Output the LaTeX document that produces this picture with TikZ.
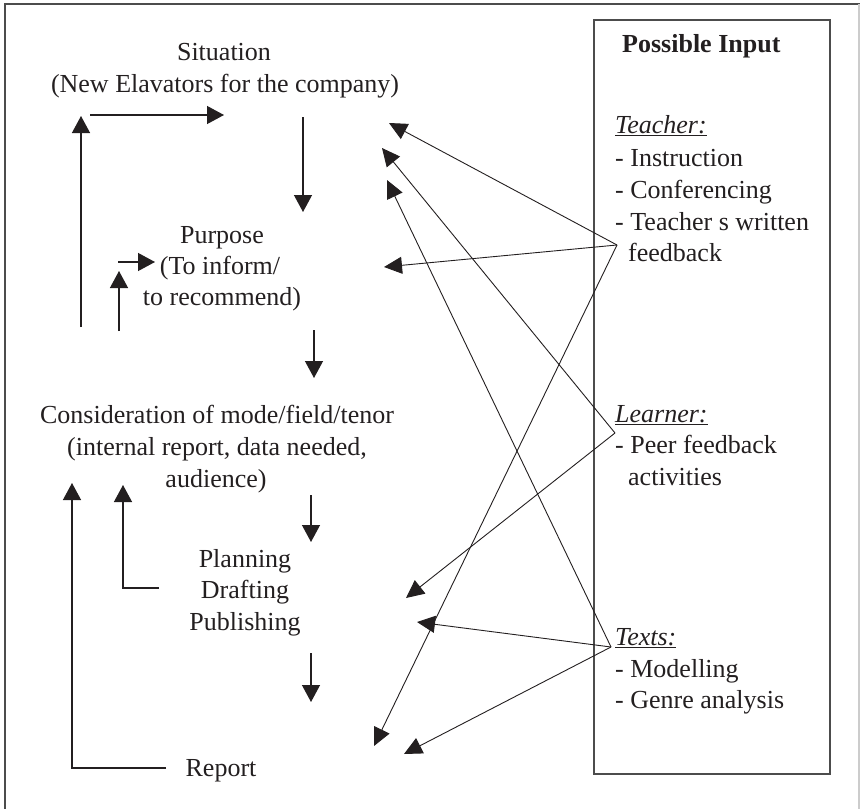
\documentclass[tikz,border=0pt]{standalone}
\usepackage{fontspec}
\setmainfont{Liberation Serif}
\usetikzlibrary{arrows.meta}
\definecolor{ink}{HTML}{231F20}
\begin{document}
\begin{tikzpicture}[x=1pt,y=-1pt,
  every node/.style={inner sep=0pt, text=ink, font=\fontsize{26}{32}\selectfont},
  stage/.style={anchor=base},
  inputline/.style={anchor=base west},
  flow/.style={draw=ink, line width=1.3pt, -{Triangle[length=17pt,width=18pt]}},
  feed/.style={draw=ink, line width=0.9pt, -{Triangle[length=18pt,width=17pt]}}
]
\useasboundingbox (0,0) rectangle (860,809);

% outer frame
\draw[draw=black!70, line width=1.5pt] (5,809) -- (5,4) -- (860,4);
\draw[draw=black!20, line width=1.2pt] (859,4) -- (859,809);

% writing stages
\node[stage] (sit1) at (224,60)  {Situation};
\node[stage] (sit2) at (225,92)  {(New Elavators for the company)};
\node[stage] (pur1) at (222,243) {Purpose};
\node[stage] (pur2) at (220,274) {(To inform/};
\node[stage] (pur3) at (222,305) {to recommend)};
\node[stage] (con1) at (217,423) {Consideration of mode/field/tenor};
\node[stage] (con2) at (217,455) {(internal report, data needed,};
\node[stage] (con3) at (216,487) {audience)};
\node[stage] (pdp1) at (245,567) {Planning};
\node[stage] (pdp2) at (245,598) {Drafting};
\node[stage] (pdp3) at (245,630) {Publishing};
\node[stage] (rep)  at (221,776) {Report};

% input panel
\node[draw=black!70, line width=1.5pt, minimum width=236pt, minimum height=754pt]
  (inputbox) at (712,397) {};
\node[inputline, font=\bfseries\fontsize{26}{32}\selectfont] (title) at (622,52) {Possible Input};
\node[inputline] (teach) at (615,133) {\underline{\textit{Teacher:}}};
\node[inputline] (t1) at (615,166) {- Instruction};
\node[inputline] (t2) at (615,198) {- Conferencing};
\node[inputline] (t3) at (615,230) {- Teacher s written};
\node[inputline] (t4) at (628,261) {feedback};
\node[inputline] (learn) at (615,422) {\underline{\textit{Learner:}}};
\node[inputline] (l1) at (615,453) {- Peer feedback};
\node[inputline] (l2) at (628,485) {activities};
\node[inputline] (texts) at (615,645) {\underline{\textit{Texts:}}};
\node[inputline] (x1) at (615,677) {- Modelling};
\node[inputline] (x2) at (615,708) {- Genre analysis};

% main flow arrows
\coordinate (a1s) at (81,327);  \coordinate (a1e) at (81,116);
\coordinate (a2s) at (90,115);  \coordinate (a2e) at (224,115);
\coordinate (a3s) at (303,117); \coordinate (a3e) at (303,212);
\coordinate (a4s) at (118,262); \coordinate (a4e) at (155,262);
\coordinate (a5s) at (119,331); \coordinate (a5e) at (119,271);
\coordinate (a6s) at (314,330); \coordinate (a6e) at (314,378);
\coordinate (a7s) at (166,768); \coordinate (a7e) at (72,483);
\coordinate (a8s) at (159,588); \coordinate (a8e) at (123,485);
\coordinate (a9s) at (311,495); \coordinate (a9e) at (311,542);
\coordinate (a10s) at (311,653); \coordinate (a10e) at (311,702);

\draw[flow] (a1s) -- (a1e);
\draw[flow] (a2s) -- (a2e);
\draw[flow] (a3s) -- (a3e);
\draw[flow] (a4s) -- (a4e);
\draw[flow] (a5s) -- (a5e);
\draw[flow] (a6s) -- (a6e);
\draw[flow] (a7s) -| (a7e);
\draw[flow] (a8s) -| (a8e);
\draw[flow] (a9s) -- (a9e);
\draw[flow] (a10s) -- (a10e);

% input sources and their targets
\coordinate (hubT) at (617,245);
\coordinate (hubL) at (615,433);
\coordinate (hubX) at (611,647);
\coordinate (inSitT) at (389,123);
\coordinate (inSitL) at (382,148);
\coordinate (inSitX) at (387,180);
\coordinate (inPur)  at (384,267);
\coordinate (inPdpL) at (406,598);
\coordinate (inPdpX) at (417,622);
\coordinate (inRepT) at (374,746);
\coordinate (inRepX) at (404,754);

\draw[feed] (hubT) -- (inSitT);
\draw[feed] (hubT) -- (inPur);
\draw[feed] (hubT) -- (inRepT);
\draw[feed] (hubL) -- (inSitL);
\draw[feed] (hubL) -- (inPdpL);
\draw[feed] (hubX) -- (inSitX);
\draw[feed] (hubX) -- (inPdpX);
\draw[feed] (hubX) -- (inRepX);
\end{tikzpicture}
\end{document}
